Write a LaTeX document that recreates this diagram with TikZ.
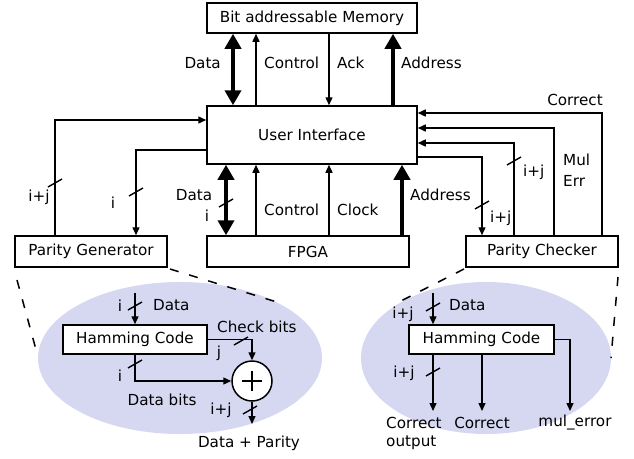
\documentclass[tikz,border=0pt]{standalone}
\usepackage{fontspec}
\setmainfont{DejaVu Sans}
\usetikzlibrary{arrows.meta}
\definecolor{lav}{RGB}{214,216,242}
\begin{document}
\begin{tikzpicture}[x=1pt,y=-1pt,
  font=\fontsize{15.2}{18}\selectfont,
  box/.style={draw,line width=1.5pt,inner sep=0pt,fill=white},
  thinarr/.style={line width=1.4pt,-{Triangle[length=8pt,width=7pt]}},
  fatarr/.style={line width=4.2pt,-{Triangle[length=15pt,width=16pt]}},
  fatboth/.style={line width=4.2pt,{Triangle[length=15pt,width=16pt]}-{Triangle[length=15pt,width=16pt]}},
  zoomline/.style={line width=1.5pt,dash pattern=on 9pt off 11pt},
  lbl/.style={inner sep=0pt},
  busmark/.pic={\draw[line width=1.4pt] (-7pt,-4pt) -- (7pt,4pt);}
]
\useasboundingbox (0,0) rectangle (634,458);

% zoom ellipses
\fill[lav] (180,358) ellipse [x radius=142, y radius=76];
\fill[lav] (486,358) ellipse [x radius=125, y radius=76];

% main boxes
\node[box,minimum width=210pt,minimum height=30pt] (mem) at (312,18) {Bit addressable Memory};
\node[box,minimum width=210pt,minimum height=58pt] (ui) at (312,135) {User Interface};
\node[box,minimum width=202pt,minimum height=31pt] (fpga) at (308,251.5) {FPGA};
\node[box,minimum width=152pt,minimum height=31pt] (pg) at (91,251.5) {Parity Generator};
\node[box,minimum width=152pt,minimum height=31pt] (pc) at (542,251.5) {Parity Checker};

% dashed zoom lines
\coordinate (d1a) at (170,269); \coordinate (d1b) at (280,303);
\coordinate (d2a) at (17,280);  \coordinate (d2b) at (38,357);
\coordinate (d3a) at (464,269); \coordinate (d3b) at (397,303);
\coordinate (d4a) at (618,277); \coordinate (d4b) at (611,358);
\draw[zoomline] (d1a) -- (d1b);
\draw[zoomline] (d2a) -- (d2b);
\draw[zoomline] (d3a) -- (d3b);
\draw[zoomline] (d4a) -- (d4b);

% x positions
\coordinate (xMD) at (233,0);
\coordinate (xCt) at (256,0);
\coordinate (xAk) at (329,0);
\coordinate (xMA) at (393,0);
\coordinate (xFD) at (226,0);
\coordinate (xFA) at (402,0);
\coordinate (xL1) at (55,0);
\coordinate (xL2) at (136,0);
\coordinate (xR1) at (602,0);
\coordinate (xR2) at (554,0);
\coordinate (xR3) at (514,0);
\coordinate (xR4) at (482,0);
% y positions
\coordinate (yL1) at (0,120);
\coordinate (yL2) at (0,150);
\coordinate (yR1) at (0,113);
\coordinate (yR2) at (0,128);
\coordinate (yR3) at (0,143);
\coordinate (yR4) at (0,157);

% memory <-> UI
\draw[fatboth] (mem.south -| xMD) -- (ui.north -| xMD);
\draw[thinarr] (ui.north -| xCt) -- (mem.south -| xCt);
\draw[thinarr] (mem.south -| xAk) -- (ui.north -| xAk);
\draw[fatarr] (ui.north -| xMA) -- (mem.south -| xMA);
\node[lbl,anchor=east] (tData) at (221,63) {Data};
\node[lbl,anchor=west] (tCtl) at (264,63) {Control};
\node[lbl,anchor=west] (tAck) at (337,63) {Ack};
\node[lbl,anchor=west] (tAddr) at (401,63) {Address};

% UI <-> FPGA
\draw[fatboth] (ui.south -| xFD) -- (fpga.north -| xFD);
\draw[thinarr] (fpga.north -| xCt) -- (ui.south -| xCt);
\draw[thinarr] (fpga.north -| xAk) -- (ui.south -| xAk);
\draw[fatarr] (fpga.north -| xFA) -- (ui.south -| xFA);
\pic at (226,203) {busmark};
\node[lbl] (bData) at (194,195) {Data};
\node[lbl] (bi) at (207,216) {i};
\node[lbl,anchor=west] (bCtl) at (264,210) {Control};
\node[lbl,anchor=west] (bClk) at (337,210) {Clock};
\node[lbl,anchor=west] (bAddr) at (410,195) {Address};

% Parity generator <-> UI
\draw[thinarr] (pg.north -| xL1) |- (ui.west |- yL1);
\draw[thinarr] (ui.west |- yL2) -| (pg.north -| xL2);
\pic at (55,183) {busmark};
\pic at (136,192) {busmark};
\node[lbl] (lij) at (39,197) {i+j};
\node[lbl] (li) at (113,203) {i};

% Parity checker <-> UI
\draw[thinarr] (pc.north -| xR1) |- (ui.east |- yR1);
\draw[thinarr] (pc.north -| xR2) |- (ui.east |- yR2);
\draw[thinarr] (pc.north -| xR3) |- (ui.east |- yR3);
\draw[thinarr] (ui.east |- yR4) -| (pc.north -| xR4);
\pic at (514,161) {busmark};
\pic at (482,205) {busmark};
\node[lbl] (rCor) at (575,100) {Correct};
\node[lbl,anchor=west] (rMul) at (563,160) {Mul};
\node[lbl,anchor=west] (rErr) at (563,181) {Err};
\node[lbl,anchor=west] (rij1) at (523,172) {i+j};
\node[lbl,anchor=west] (rij2) at (490,218) {i+j};

% ---- left zoom: parity generator ----
\node[box,minimum width=144pt,minimum height=29pt] (hc1) at (135,339.5) {Hamming Code};
\node[draw,circle,line width=1.5pt,fill=white,minimum size=40pt,inner sep=0pt] (circ) at (252,381) {};
\draw[line width=2pt] ([xshift=-10pt]circ.center) -- ([xshift=10pt]circ.center);
\draw[line width=2pt] ([yshift=-10pt]circ.center) -- ([yshift=10pt]circ.center);
\coordinate (in1) at (135,293);
\coordinate (out1) at (252,424);
\draw[thinarr] (in1) -- (hc1.north);
\draw[thinarr] (hc1.east) -| (circ.north);
\draw[thinarr] (hc1.south) |- (circ.west);
\draw[thinarr] (circ.south) -- (out1);
\pic at (135,306) {busmark};
\pic at (241,341) {busmark};
\pic at (135,364) {busmark};
\pic at (250,410) {busmark};
\node[lbl] (gi1) at (120,306) {i};
\node[lbl,anchor=west] (gData) at (153,305) {Data};
\node[lbl,anchor=west] (gChk) at (217,327) {Check bits};
\node[lbl] (gj) at (219,353) {j};
\node[lbl] (gi2) at (120,376) {i};
\node[lbl] (gDb) at (162,400) {Data bits};
\node[lbl] (gij) at (221,410) {i+j};
\node[lbl] (gDP) at (249,443) {Data + Parity};

% ---- right zoom: parity checker ----
\node[box,minimum width=145pt,minimum height=29pt] (hc2) at (481.5,339.5) {Hamming Code};
\coordinate (in2) at (433,293);
\coordinate (o21) at (433,411);
\coordinate (o22) at (482,411);
\coordinate (o23) at (570,411);
\draw[thinarr] (in2) -- (in2 |- hc2.north);
\draw[thinarr] (hc2.south -| o21) -- (o21);
\draw[thinarr] (hc2.south -| o22) -- (o22);
\draw[thinarr] (hc2.east) -| (o23);
\pic at (433,307) {busmark};
\pic at (433,372) {busmark};
\node[lbl] (cij1) at (403,314) {i+j};
\node[lbl,anchor=west] (cData) at (449,305) {Data};
\node[lbl] (cij2) at (404,373) {i+j};
\node[lbl,anchor=west] (cCo) at (386,423) {Correct};
\node[lbl,anchor=west] (cOut) at (386,443) {output};
\node[lbl] (cCor) at (482,423) {Correct};
\node[lbl] (cMul) at (575,423) {mul\_error};
\end{tikzpicture}
\end{document}
